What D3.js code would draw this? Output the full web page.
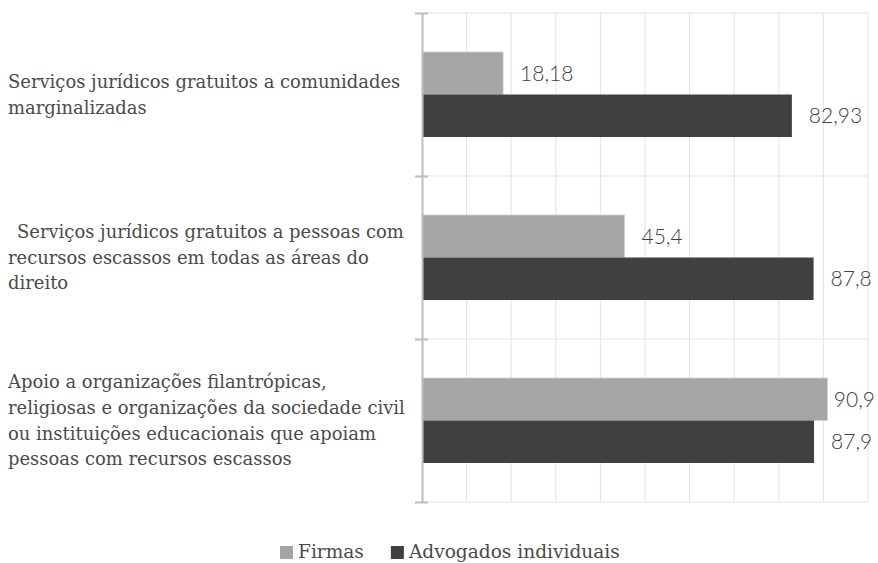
<!DOCTYPE html>
<html>
<head>
<meta charset="utf-8">
<script src="https://cdn.jsdelivr.net/npm/d3@7"></script>
<style>
  html, body { margin: 0; padding: 0; background: #fff; }
  svg { display: block; }
</style>
</head>
<body>
<svg id="chart" width="878" height="563"></svg>
<script>
const categories = [
  "Serviços jurídicos gratuitos a comunidades marginalizadas",
  "Serviços jurídicos gratuitos a pessoas com recursos escassos em todas as áreas do direito",
  "Apoio a organizações filantrópicas, religiosas e organizações da sociedade civil ou instituições educacionais que apoiam pessoas com recursos escassos"
];
const categoryLines = [
  ["Serviços jurídicos gratuitos a comunidades", "marginalizadas"],
  ["  Serviços jurídicos gratuitos a pessoas com", "recursos escassos em todas as áreas do", "direito"],
  ["Apoio a organizações filantrópicas,", "religiosas e organizações da sociedade civil", "ou instituições educacionais que apoiam", "pessoas com recursos escassos"]
];
const seriesNames = ["Firmas", "Advogados individuais"];
const firmas = [18.18, 45.4, 90.9];
const advogados = [82.93, 87.8, 87.9];
const valueLabels = [["18,18", "82,93"], ["45,4", "87,8"], ["90,9", "87,9"]];
const xTicks = [0, 10, 20, 30, 40, 50, 60, 70, 80, 90, 100];

const colors = ["#a5a5a5", "#404040"];
const W = 878;
const svg = d3.select("#chart");

const x = d3.scaleLinear().domain([0, 100]).range([422, 868]);
const y = d3.scaleBand().domain(d3.range(categories.length)).range([13, 502]).paddingInner(0).paddingOuter(0);
const y1 = d3.scaleBand().domain([0, 1]).range([0, y.bandwidth()]).paddingInner(0).paddingOuter(0.918);

// vertical gridlines
svg.append("g").selectAll("line").data(xTicks.slice(1)).join("line")
  .attr("x1", d => x(d)).attr("x2", d => x(d))
  .attr("y1", y.range()[0]).attr("y2", y.range()[1])
  .attr("stroke", "#e3e3e3").attr("stroke-width", 1);

// horizontal gridlines at category boundaries
const bounds = d3.range(categories.length + 1).map(i => i < categories.length ? y(i) : y.range()[1]);
svg.append("g").selectAll("line").data(bounds).join("line")
  .attr("x1", x(0)).attr("x2", x(100))
  .attr("y1", d => d).attr("y2", d => d)
  .attr("stroke", "#e3e3e3").attr("stroke-width", 1);

// bars
const data = categories.map((c, i) => [firmas[i], advogados[i]]);
const groups = svg.append("g").selectAll("g").data(data).join("g")
  .attr("transform", (d, i) => `translate(0,${y(i)})`);
groups.selectAll("rect").data(d => d).join("rect")
  .attr("x", x(0))
  .attr("y", (d, j) => y1(j))
  .attr("width", d => x(d) - x(0))
  .attr("height", y1.bandwidth())
  .attr("fill", (d, j) => colors[j])
  .attr("stroke", (d, j) => j === 0 ? "#d0d0d0" : "none")
  .attr("stroke-width", 0.8);

// value labels
groups.each(function(d, i) {
  const g = d3.select(this);
  d.forEach((v, j) => {
    const t = g.append("text")
      .attr("y", y1(j) + y1.bandwidth() / 2)
      .attr("dy", "0.35em")
      .attr("font-family", "Lato, 'Open Sans', sans-serif")
      .attr("font-weight", 300)
      .attr("font-size", 21)
      .attr("fill", "#404040")
      .text(valueLabels[i][j]);
    const w = t.node().getComputedTextLength();
    let tx = x(v) + 17;
    if (tx + w > W - 3) tx = W - 3 - w;
    t.attr("x", tx);
  });
});

// axis line with ticks
const axis = d3.axisLeft(d3.scaleLinear().domain([0, 3]).range([13, 502]))
  .tickValues([0, 1, 2, 3]).tickFormat("").tickSizeInner(7).tickSizeOuter(0);
const ag = svg.append("g").attr("transform", `translate(${x(0)},0)`).call(axis);
ag.select(".domain").attr("stroke", "#bdbdbd").attr("stroke-width", 2);
ag.selectAll(".tick line").attr("stroke", "#bdbdbd").attr("stroke-width", 2).attr("x2", -7).attr("x1", 6);

// category labels
const serif = "'DejaVu Serif', serif";
const lineH = 25.7;
categoryLines.forEach((lines, i) => {
  const cy = y(i) + y.bandwidth() / 2;
  const start = cy - (lines.length - 1) * lineH / 2;
  lines.forEach((ln, k) => {
    const lead = ln.startsWith("  ") ? 9 : 0;
    svg.append("text")
      .attr("class", "cat")
      .attr("x", 8 + lead)
      .attr("y", start + k * lineH)
      .attr("dy", "0.35em")
      .attr("font-family", serif)
      .attr("font-size", 20)
      .attr("fill", "#4a4a4a")
      .text(ln.trim());
  });
});
// scale font so longest line fits the original width
let maxW = 0;
svg.selectAll("text.cat").each(function() { maxW = Math.max(maxW, this.getComputedTextLength()); });
const fs = 20 * 397 / maxW;
svg.selectAll("text.cat").attr("font-size", fs);

// legend
const legend = svg.append("g");
const legTexts = seriesNames.map((n, j) => legend.append("text")
  .attr("y", 558)
  .attr("font-family", serif).attr("font-size", 20).attr("fill", "#4a4a4a").text(n));
const lw = legTexts[1].node().getComputedTextLength();
const lfs = 20 * 211 / lw;
legTexts.forEach(t => t.attr("font-size", lfs));
let lx = 280;
seriesNames.forEach((n, j) => {
  legend.append("rect").attr("x", lx).attr("y", 546).attr("width", 13).attr("height", 13).attr("fill", colors[j]);
  legTexts[j].attr("x", lx + 18);
  lx += 18 + legTexts[j].node().getComputedTextLength() + 27;
});
</script>
</body>
</html>
